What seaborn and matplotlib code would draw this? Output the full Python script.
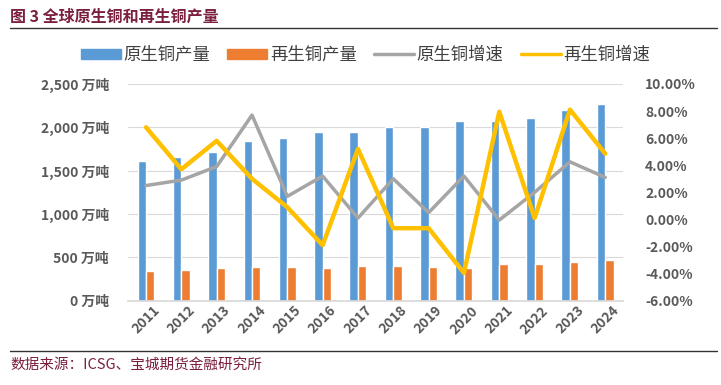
import numpy as np
import pandas as pd
import matplotlib
matplotlib.use("Agg")
import matplotlib.pyplot as plt
from matplotlib.patches import Patch
from matplotlib.lines import Line2D
from matplotlib.ticker import FuncFormatter
import seaborn as sns

years = [str(y) for y in range(2011, 2025)]
primary_output = [1610, 1652, 1720, 1845, 1880, 1946, 1950, 1998, 2008, 2073, 2075, 2111, 2200, 2265]
recycled_output = [343, 354, 381, 392, 392, 381, 400, 404, 392, 381, 420, 420, 443, 470]
primary_growth = [2.5, 2.9, 3.9, 7.7, 1.7, 3.2, 0.1, 3.0, 0.5, 3.2, -0.05, 2.0, 4.25, 3.1]
recycled_growth = [6.8, 3.7, 5.8, 3.0, 0.9, -1.9, 5.2, -0.65, -0.65, -3.95, 7.95, 0.1, 8.1, 4.85]

series_names = ["原生铜产量", "再生铜产量", "原生铜增速", "再生铜增速"]
COLORS = {
    "原生铜产量": "#5B9BD5",
    "再生铜产量": "#ED7D31",
    "原生铜增速": "#A5A5A5",
    "再生铜增速": "#FFC000",
}
MAROON = "#7A1F3D"
TICK = "#595959"

sns.set_theme(style="white")
plt.rcParams["font.family"] = ["Noto Sans CJK SC", "DejaVu Sans"]
plt.rcParams["axes.unicode_minus"] = False

bars = pd.DataFrame({
    "year": years * 2,
    "value": primary_output + recycled_output,
    "series": [series_names[0]] * len(years) + [series_names[1]] * len(years),
})

fig = plt.figure(figsize=(7.21, 3.85), dpi=100)
ax = fig.add_axes([0.178, 0.219, 0.686, 0.563])

sns.barplot(data=bars, x="year", y="value", hue="series", ax=ax,
            palette=[COLORS[series_names[0]], COLORS[series_names[1]]],
            width=0.48, saturation=1, legend=False)
ax.set_ylim(0, 2500)
ax.set_yticks(np.arange(0, 2501, 500))
ax.yaxis.set_major_formatter(FuncFormatter(lambda v, p: f"{int(v):,} 万吨"))
ax.set_xlabel("")
ax.set_ylabel("")
ax.set_xlim(-0.5, len(years) - 0.5)
ax.grid(axis="y", color="#D9D9D9", linewidth=0.8)
ax.set_axisbelow(True)
for s in ["top", "right", "left"]:
    ax.spines[s].set_visible(False)
ax.spines["bottom"].set_color("#D9D9D9")
ax.tick_params(axis="y", length=0, labelsize=10, labelcolor=TICK, pad=14)
ax.tick_params(axis="x", length=0, labelsize=10, labelcolor=TICK, pad=2)
for lab in ax.get_xticklabels():
    lab.set_rotation(45)
    lab.set_ha("center")
    lab.set_va("top")
    lab.set_fontweight("bold")
for lab in ax.get_yticklabels():
    lab.set_fontweight("bold")

ax2 = ax.twinx()
xpos = np.arange(len(years))
sns.lineplot(x=xpos, y=primary_growth, ax=ax2, color=COLORS[series_names[2]], linewidth=2.5)
sns.lineplot(x=xpos, y=recycled_growth, ax=ax2, color=COLORS[series_names[3]], linewidth=3.2)
ax2.set_ylim(-6, 10)
ax2.set_yticks(np.arange(-6, 10.1, 2))
ax2.yaxis.set_major_formatter(FuncFormatter(lambda v, p: f"{v:.2f}%"))
ax2.tick_params(axis="y", length=0, labelsize=10, labelcolor=TICK, pad=16)
for lab in ax2.get_yticklabels():
    lab.set_fontweight("bold")
for s in ax2.spines.values():
    s.set_visible(False)
ax2.set_xlim(-0.5, len(years) - 0.5)

handles = [
    Patch(color=COLORS[series_names[0]]),
    Patch(color=COLORS[series_names[1]]),
    Line2D([], [], color=COLORS[series_names[2]], linewidth=2.5),
    Line2D([], [], color=COLORS[series_names[3]], linewidth=2.5),
]
fig.legend(handles, series_names, loc="center", bbox_to_anchor=(0.507, 0.857), ncol=4,
           frameon=False, fontsize=12.5, handlelength=2.3, handleheight=0.55,
           columnspacing=1.0, handletextpad=0.15, labelcolor="#404040")

fig.text(0.014, 0.957, "图 3 全球原生铜和再生铜产量", color=MAROON, fontsize=11.5,
         fontweight="bold", ha="left", va="center")
fig.add_artist(Line2D([0.014, 0.995], [0.928, 0.928], color="#333333", linewidth=1.0))
fig.add_artist(Line2D([0.014, 0.995], [0.088, 0.088], color="#333333", linewidth=1.0))
fig.text(0.014, 0.052, "数据来源：ICSG、宝城期货金融研究所", color=MAROON, fontsize=10.5,
         ha="left", va="center")

fig.savefig("out.png", dpi=100)
